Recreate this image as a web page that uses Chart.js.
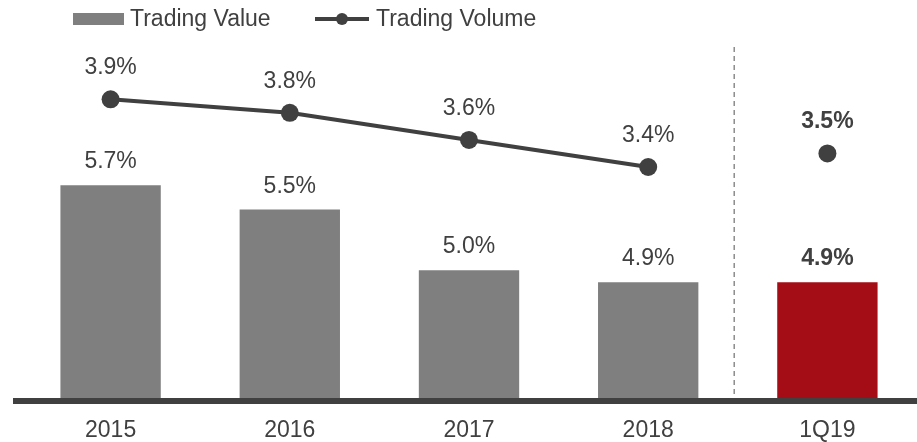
<!DOCTYPE html>
<html>
<head>
<meta charset="utf-8">
<title>Trading Value vs Trading Volume</title>
<script src="https://cdn.jsdelivr.net/npm/chart.js@4.4.1/dist/chart.umd.min.js"></script>
<style>
  html, body { margin: 0; padding: 0; background: #fff; }
  #wrap { position: relative; width: 917px; height: 442px; }
  #legend { position: absolute; left: 0; top: 0; width: 917px; height: 40px;
            font: 23px "Liberation Sans", Arial, sans-serif; color: #404040; }
  #legend .txt { position: absolute; top: 7px; line-height: 23px; white-space: nowrap; }
  #legend .box { position: absolute; left: 73px; top: 13px; width: 51px; height: 12px; background: #7f7f7f; }
  #legend .ln { position: absolute; left: 315px; top: 17px; width: 54px; height: 4px; background: #404040; }
  #legend .dot { position: absolute; left: 336px; top: 13px; width: 12px; height: 12px; border-radius: 50%; background: #404040; }
</style>
</head>
<body>
<div id="wrap">
  <canvas id="chart" width="917" height="442"></canvas>
  <div id="legend">
    <span class="box"></span><span class="txt" style="left:130px">Trading Value</span>
    <span class="ln"></span><span class="dot"></span><span class="txt" style="left:376px">Trading Volume</span>
  </div>
</div>
<script>
const categories    = ["2015", "2016", "2017", "2018", "1Q19"];
const tradingValue  = [5.7, 5.5, 5.0, 4.9, 4.9];
const tradingVolume = [3.9, 3.8, 3.6, 3.4, 3.5];

const INK = "#404040", GRAY = "#7f7f7f", RED = "#a50d16";
const FONT = '"Liberation Sans", Arial, sans-serif';
const last = categories.length - 1;

// percentage labels above every bar and point, latest period in bold
const valueLabels = {
  id: "valueLabels",
  afterDatasetsDraw(chart) {
    const ctx = chart.ctx;
    ctx.save();
    ctx.textAlign = "center";
    ctx.textBaseline = "alphabetic";
    ctx.fillStyle = INK;
    chart.data.datasets.forEach((ds, di) => {
      const meta = chart.getDatasetMeta(di);
      const gap = ds.type === "line" ? 25 : 17;
      meta.data.forEach((el, i) => {
        ctx.font = (i === last ? "bold " : "") + "23px " + FONT;
        ctx.fillText(ds.data[i].toFixed(1) + "%", el.x, el.y - gap);
      });
    });
    ctx.restore();
  }
};

// dashed divider before the quarter, thick base line under the bars
const frame = {
  id: "frame",
  beforeDatasetsDraw(chart) {
    const { ctx, chartArea } = chart;
    const x = chart.scales.x.getPixelForValue(last - 0.52);
    ctx.save();
    ctx.strokeStyle = "#8c8c8c";
    ctx.lineWidth = 1.5;
    ctx.setLineDash([5, 4]);
    ctx.beginPath();
    ctx.moveTo(x, chartArea.top + 2);
    ctx.lineTo(x, chartArea.bottom);
    ctx.stroke();
    ctx.restore();
  },
  afterDraw(chart) {
    const { ctx, chartArea } = chart;
    ctx.save();
    ctx.fillStyle = INK;
    ctx.fillRect(chartArea.left - 8, chartArea.bottom, chartArea.right - chartArea.left + 8, 6);
    ctx.restore();
  }
};

new Chart(document.getElementById("chart"), {
  type: "bar",
  data: {
    labels: categories,
    datasets: [
      {
        type: "line",
        label: "Trading Volume",
        data: tradingVolume,
        yAxisID: "y1",
        borderColor: INK,
        borderWidth: 4,
        backgroundColor: INK,
        pointRadius: 9,
        pointBackgroundColor: INK,
        pointBorderWidth: 0,
        tension: 0,
        clip: false,
        segment: { borderColor: c => c.p1DataIndex === last ? "rgba(0,0,0,0)" : INK }
      },
      {
        label: "Trading Value",
        data: tradingValue,
        yAxisID: "y",
        backgroundColor: c => c.dataIndex === last ? RED : GRAY,
        barPercentage: 0.56,
        categoryPercentage: 1
      }
    ]
  },
  options: {
    responsive: false,
    animation: false,
    devicePixelRatio: 1,
    layout: { autoPadding: false, padding: { left: 21, right: 0, top: 45, bottom: 0 } },
    plugins: { legend: { display: false }, tooltip: { enabled: false } },
    scales: {
      x: {
        grid: { display: false, drawTicks: false },
        border: { display: false },
        ticks: { color: INK, font: { family: FONT, size: 23 }, padding: 19 },
        afterFit: s => { s.height = 44; }
      },
      y: { display: false, min: 3.946, max: 6.857 },
      y1: { display: false, min: 1.694, max: 4.301 }
    }
  },
  plugins: [valueLabels, frame]
});
</script>
</body>
</html>
